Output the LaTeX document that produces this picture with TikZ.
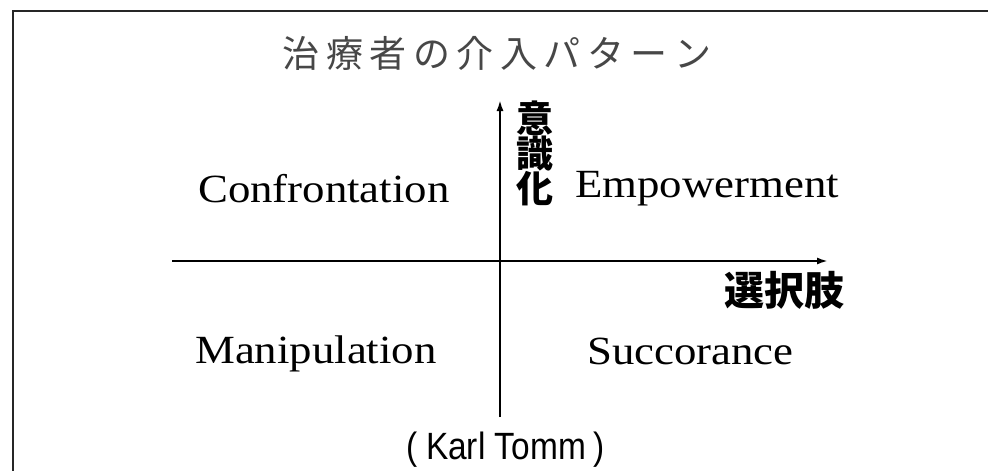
\documentclass[tikz,border=0pt]{standalone}
\usepackage{fontspec}
\usetikzlibrary{arrows.meta}
\setmainfont{Liberation Serif}
\newfontfamily\jp{Noto Sans CJK JP}
\newfontfamily\serifw[FakeStretch=1.12]{Liberation Serif}
\newfontfamily\sansn[FakeStretch=0.88]{Liberation Sans}
\newcommand{\tg}{\hspace{6.5pt}}
\tikzset{
  quad/.style={inner sep=0pt, anchor=base west, font=\serifw\fontsize{40}{44}\selectfont},
  jplabel/.style={inner sep=0pt, font=\jp\bfseries\fontsize{37}{35}\selectfont},
  axis/.style={line width=2pt, -{Latex[length=11pt,width=7pt]}},
  frameline/.style={line width=1.6pt, black!85}
}
\begin{document}
\begin{tikzpicture}[x=1pt,y=-1pt]
\useasboundingbox (0,0) rectangle (988,471);
% frame
\draw[frameline] (13,471) -- (13,11) -- (988,11);
% title
\node[inner sep=0pt, text=black!72, font=\jp\fontsize{37}{40}\selectfont] (title) at (497,53)
  {治\tg 療\tg 者\tg の\tg 介\tg 入\tg パ\tg タ\tg ー\tg ン};
% axes
\coordinate (vb) at (500,417);
\coordinate (vt) at (500,100);
\coordinate (hl) at (172,261);
\coordinate (hr) at (828,261);
\draw[axis] (vb) -- (vt);
\draw[axis] (hl) -- (hr);
% axis labels
\node[jplabel, align=center] (ishiki) at (535,153) {意\\識\\化};
\node[jplabel, font=\jp\bfseries\fontsize{40}{42}\selectfont] (sentaku) at (784,290) {選択肢};
% quadrant labels
\node[quad] (conf) at (198,202) {Confrontation};
\node[quad] (emp) at (575,197) {Empowerment};
\node[quad] (man) at (195,363) {Manipulation};
\node[quad] (suc) at (587,364) {Succorance};
% author
\node[inner sep=0pt, font=\sansn\fontsize{38}{40}\selectfont] (author) at (506,450) {(\hspace{8pt}Karl Tomm\hspace{8pt})};
\end{tikzpicture}
\end{document}
